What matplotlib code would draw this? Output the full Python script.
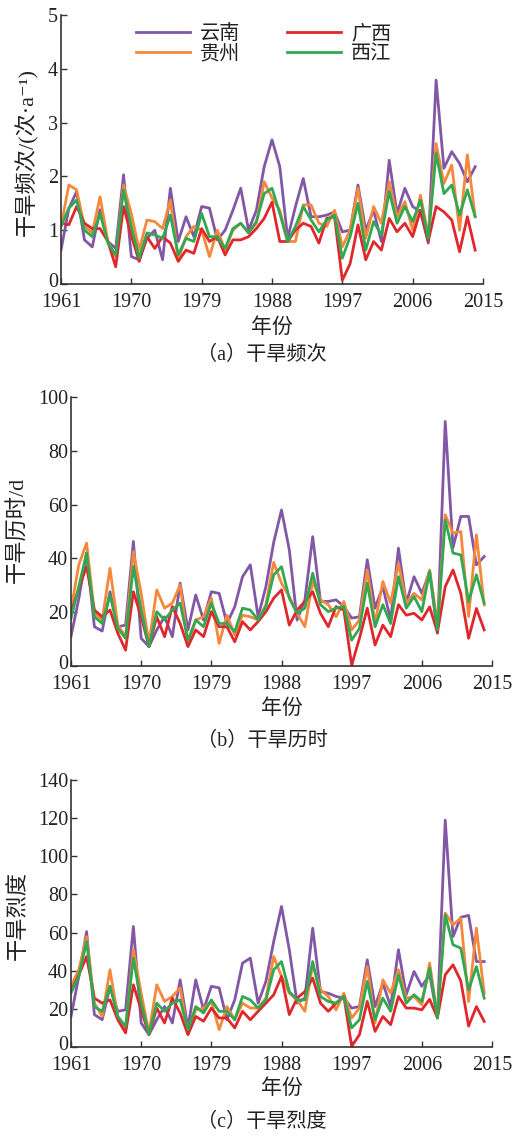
import numpy as np
import matplotlib
matplotlib.use("Agg")
import matplotlib.pyplot as plt
import matplotlib.transforms as mtransforms

plt.rcParams['font.family'] = ['Liberation Serif', 'Noto Sans CJK SC', 'DejaVu Sans']

years = np.arange(1961, 2015)
regions = ["云南", "贵州", "广西", "西江"]
colors = {"云南": "#8157a6", "贵州": "#f5883a", "广西": "#e0282c", "西江": "#33a852"}

# (a) drought frequency, times per year
freq = {
    "云南": [0.63, 1.4, 1.72, 0.82, 0.69, 1.38, 0.79, 0.66, 2.03, 0.51, 0.45, 0.85, 1.0, 0.45,
             1.78, 0.79, 1.25, 0.88, 1.44, 1.41, 0.82, 1.0, 1.37, 1.78, 1.0, 1.37, 2.18, 2.68,
             2.18, 0.85, 1.44, 1.96, 1.25, 1.25, 1.28, 1.34, 0.97, 1.0, 1.84, 1.0, 1.37, 0.79,
             2.3, 1.31, 1.78, 1.44, 1.34, 0.76, 3.79, 2.15, 2.46, 2.24, 1.9, 2.18],
    "贵州": [1.07, 1.84, 1.75, 1.07, 0.95, 1.62, 0.79, 0.51, 1.84, 1.31, 0.63, 1.19, 1.16, 1.03,
             1.56, 0.45, 0.88, 1.07, 1.0, 0.51, 1.0, 0.63, 1.0, 1.13, 0.95, 1.13, 1.9, 1.6,
             1.37, 0.79, 0.79, 1.47, 1.47, 1.13, 1.07, 1.37, 0.69, 1.0, 1.78, 0.85, 1.44, 1.13,
             1.9, 1.25, 1.53, 1.0, 1.65, 0.9, 2.61, 1.87, 2.21, 1.0, 2.4, 1.25],
    "广西": [1.13, 1.1, 1.44, 1.13, 1.03, 1.03, 0.79, 0.32, 1.44, 0.9, 0.42, 0.88, 0.66, 0.88,
             0.76, 0.42, 0.63, 0.57, 1.03, 0.79, 0.88, 0.54, 0.82, 0.82, 0.88, 1.03, 1.22, 1.52,
             0.79, 0.79, 1.0, 1.13, 1.07, 0.76, 1.22, 1.25, 0.07, 0.38, 1.1, 0.45, 0.79, 0.63,
             1.22, 0.97, 1.13, 0.88, 1.37, 0.8, 1.44, 1.34, 1.19, 0.6, 1.25, 0.63],
    "西江": [1.07, 1.41, 1.56, 1.0, 0.88, 1.31, 0.76, 0.54, 1.75, 1.07, 0.48, 0.95, 0.91, 0.85,
             1.28, 0.54, 0.85, 0.79, 1.31, 0.88, 0.88, 0.66, 1.03, 1.13, 0.95, 1.16, 1.68, 1.78,
             1.31, 0.79, 1.07, 1.44, 1.19, 0.97, 1.19, 1.28, 0.48, 0.88, 1.5, 0.63, 1.16, 0.91,
             1.72, 1.13, 1.44, 1.16, 1.56, 0.85, 2.43, 1.68, 1.84, 1.28, 1.75, 1.25],
}

# (b) drought duration, days
dur = {
    "云南": [11, 25, 42, 14.6, 13, 27.6, 14.6, 15.2, 46.3, 10.3, 7.2, 13.4, 18.3, 10.9,
             30.8, 13.4, 26.4, 17.1, 27.6, 27, 15.8, 22, 33.2, 37.6, 18.3, 29.5, 46, 58,
             43.2, 17.1, 24.6, 48.1, 24, 24, 24.6, 22.1, 17.8, 18.3, 39.5, 21.5, 29.5, 17.1,
             43.8, 23.4, 33.2, 27, 35.1, 12.2, 90.9, 44, 55.6, 55.6, 37.6, 40.7],
    "贵州": [21, 37.6, 45.7, 19.6, 17.1, 36.3, 15.2, 10.9, 42.5, 27, 8.4, 28.3, 21.5, 23.4,
             30.1, 7.8, 17.1, 18.3, 25.2, 8.4, 18.9, 11.5, 18.9, 18.3, 17.1, 22.8, 38.5, 30.8,
             25.8, 19.6, 14.6, 31.4, 24.6, 22.8, 18.3, 24, 13.4, 17.1, 35.7, 15.8, 31.4, 23.4,
             38.2, 23.4, 27, 24.6, 35.7, 15.8, 56.2, 49.4, 50, 18.4, 48.8, 22.7],
    "广西": [19.6, 29, 36.9, 20.8, 18.3, 20.8, 12.2, 5.9, 27.6, 18.3, 7.2, 18.3, 10.9, 22.1,
             15.8, 7.2, 13.4, 10.9, 20.2, 14.6, 14.6, 9, 16.5, 13.4, 16.5, 20.2, 25.2, 28.3,
             15.2, 20.8, 24, 27.6, 19.6, 14.6, 22.1, 20.8, 0.3, 10.3, 21.5, 7.8, 15.2, 10.9,
             22.8, 18.9, 19.6, 17.1, 22, 12.5, 29.5, 35.7, 27, 10.3, 21.4, 13.4],
    "西江": [17.6, 29.5, 42, 18.3, 15.8, 26.4, 14, 10.3, 36.9, 20.8, 7.2, 20.2, 17.1, 20.8,
             23.4, 9.6, 17.1, 14.6, 23.4, 15.8, 15.8, 12.8, 21.5, 20.8, 17.1, 22.1, 33.9, 36.9,
             25.2, 19.6, 21.5, 34.5, 22.8, 20.2, 21.5, 22.1, 9.6, 14, 30.8, 14.6, 22.8, 15.8,
             33.2, 21.5, 25.8, 20.2, 35.1, 13.4, 54.3, 42, 41.3, 24, 33.9, 23.3],
}

# (c) drought severity
sev = {
    "云南": [16, 37, 60.5, 17, 14.3, 31.8, 18.7, 19.5, 63.2, 12.6, 6.5, 14.3, 21.2, 12.6,
             35.2, 10, 35.2, 19.5, 31.8, 31, 14.3, 24.7, 44, 46.6, 23, 34.4, 55.3, 73.7,
             51, 23, 25.6, 62.3, 29.1, 28.2, 26.5, 25.6, 20.4, 21.2, 45.7, 21.2, 33.5, 21.2,
             51, 27.4, 39.6, 31.8, 38, 15.5, 119, 57.9, 68, 69, 44.8, 44.8],
    "贵州": [31.8, 40.5, 57.9, 23, 16, 40.5, 16, 9.1, 51, 28.2, 7.4, 32.6, 23.9, 26.5,
             31, 6.5, 19.5, 20.4, 23.9, 9.1, 21.2, 14.3, 23, 20.4, 20.4, 25.6, 47.4, 37,
             28.2, 24.7, 18.7, 43.1, 30, 26.5, 19.5, 28.2, 15.2, 20.4, 42.2, 12.6, 35.2, 28.2,
             40.5, 25.6, 26.5, 22.1, 44, 16, 70.2, 64, 67.6, 23.8, 62.3, 28.2],
    "广西": [29.1, 37.8, 47.4, 25.6, 23, 24.7, 14.3, 7.4, 32.6, 19.5, 6.5, 20.4, 12.6, 25.6,
             17.8, 6.5, 16, 13.5, 20.4, 15.2, 15.2, 10, 18.7, 14.3, 18.7, 23, 27.4, 37,
             17, 25.6, 29.1, 36.1, 23, 18.7, 23, 26.5, 0.3, 6.5, 23.9, 8.2, 16, 11.7,
             26.5, 20.4, 20.4, 19.5, 25, 15.3, 37.9, 43.1, 34.6, 11, 21.2, 13.4],
    "西江": [28.3, 37, 55.3, 21.2, 18.7, 31.8, 16, 10.8, 46.6, 23, 6.5, 23, 18.7, 23,
             24.7, 9.1, 21.2, 17.8, 24.7, 18.7, 18.7, 14.3, 26.5, 24.7, 20.4, 24.7, 40.5, 44.8,
             29.1, 24.7, 24.7, 44.8, 26.5, 23.9, 23, 26.5, 10, 14.3, 34.4, 14.3, 25.6, 18.7,
             37.8, 23, 27.4, 23.9, 41.4, 15.1, 69.3, 53.6, 51.8, 30, 42.2, 25.6],
}

panels = [
    (freq, 5, 1, "干旱频次/(次·a⁻¹)", "（a）干旱频次"),
    (dur, 100, 20, "干旱历时/d", "（b）干旱历时"),
    (sev, 140, 20, "干旱烈度", "（c）干旱烈度"),
]

W, H = 517, 1136
fig = plt.figure(figsize=(W / 100, H / 100), dpi=100)

# axes boxes in pixels: left, top, right, bottom
boxes = [(61, 15, 483, 284), (71, 397, 492, 666), (71, 780, 492, 1047)]
ylab_pos = [(27, 152), (18, 530), (18, 915)]
xlab_y = [328, 709, 1089]
cap_y = [355, 741, 1122]

cjk = ['Liberation Serif', 'Noto Sans CJK SC', 'DejaVu Sans']
serif = 'Liberation Serif'
axis_col = "#333333"
text_col = "#222222"

for k, (data, ymax, ystep, ylab, cap) in enumerate(panels):
    l, t, r, b = boxes[k]
    ax = fig.add_axes([l / W, 1 - b / H, (r - l) / W, (b - t) / H])
    for name in regions:
        ax.plot(years, data[name], color=colors[name], lw=2.0, label=name)
    ax.set_xlim(1961, 2015)
    ax.set_ylim(0, ymax)
    xt = np.arange(1961, 2016, 9)
    yt = np.arange(0, ymax + 0.001, ystep)
    ax.set_xticks(xt)
    ax.set_xticklabels([str(v) for v in xt], fontfamily=serif, fontsize=14.5)
    ax.set_yticks(yt)
    ax.set_yticklabels([f"{v:g}" for v in yt], fontfamily=serif, fontsize=14.5)
    for s in ["top", "right"]:
        ax.spines[s].set_visible(False)
    for s in ["left", "bottom"]:
        ax.spines[s].set_color(axis_col)
        ax.spines[s].set_linewidth(1.2)
    ax.tick_params(direction='in', length=4, width=1.0, color=axis_col,
                   labelcolor=text_col)
    ax.tick_params(axis='x', pad=6.5)
    ax.tick_params(axis='y', pad=2)
    # lift the "0" label a little so it clears the first year label
    lift = mtransforms.ScaledTranslation(0, 4 / 100, fig.dpi_scale_trans)
    zero = ax.get_yticklabels()[0]
    zero.set_transform(zero.get_transform() + lift)

    fig.text(ylab_pos[k][0] / W, 1 - ylab_pos[k][1] / H, ylab, rotation=90,
             ha='center', va='center', fontsize=16, family=cjk, color=text_col)
    fig.text(0.5 * (l + r) / W, 1 - xlab_y[k] / H, "年份", ha='center', va='center',
             fontsize=15, family=cjk, color=text_col)
    fig.text(262 / W, 1 - cap_y[k] / H, cap, ha='center', va='center',
             fontsize=14.5, family=cjk, color=text_col)

    if k == 0:
        ax.legend(ncol=2, loc='upper center', bbox_to_anchor=(0.48, 1.03), frameon=False,
                  handlelength=2.7, handletextpad=0.5, columnspacing=2.3,
                  labelspacing=0.05, prop={'family': cjk, 'size': 14.5},
                  labelcolor=text_col)

fig.savefig("out.png", dpi=100)
